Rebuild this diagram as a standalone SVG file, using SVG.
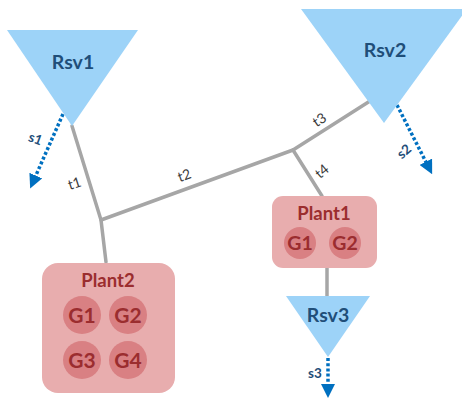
<svg xmlns="http://www.w3.org/2000/svg" width="462" height="403" viewBox="0 0 462 403">
  <style>
    .rsv { fill: #9dd3f8; }
    .rsv-label { font-family: Lato, "Liberation Sans", sans-serif; font-weight: bold; font-size: 19.5px; fill: #1f4e79; text-anchor: middle; }
    .pipe { stroke: #a6a6a6; stroke-width: 3.5; fill: none; stroke-linecap: round; stroke-linejoin: round; }
    .pipe-label { font-family: Lato, "Liberation Sans", sans-serif; font-size: 14px; fill: #3a3a3a; text-anchor: middle; }
    .spill { stroke: #0070c0; stroke-width: 3.5; stroke-dasharray: 3 2.2; fill: none; }
    .spill-label { font-family: Lato, "Liberation Sans", sans-serif; font-weight: bold; font-size: 13.5px; fill: #1f4e79; text-anchor: middle; }
    .plant { fill: #e8adae; }
    .unit { fill: #d98083; }
    .plant-label { font-family: Lato, "Liberation Sans", sans-serif; font-weight: bold; font-size: 18.5px; fill: #9b2d2f; text-anchor: middle; }
    .unit-label { font-family: Lato, "Liberation Sans", sans-serif; font-weight: bold; font-size: 21px; fill: #9b2d2f; text-anchor: middle; }
    .unit-label.small { font-size: 19.5px; }
  </style>
  <defs>
    <marker id="head" viewBox="0 0 10 10" refX="5" refY="5" markerWidth="4" markerHeight="4" orient="auto" markerUnits="strokeWidth">
      <path d="M0,0 L10,5 L0,10 Z" fill="#0070c0"/>
    </marker>
  </defs>

  <rect width="462" height="403" fill="#ffffff"/>

  <!-- pipes and spill outlets -->
  <g id="connectors">
    <polyline class="pipe" points="72,126 101,220 106,262"/>
    <polyline class="pipe" points="101,220 293,150 370,101"/>
    <line class="pipe" x1="293" y1="150" x2="322" y2="196"/>
    <line class="pipe" x1="327" y1="268" x2="327" y2="296"/>

    <line class="spill" x1="63" y1="114" x2="33" y2="182" marker-end="url(#head)"/>
    <line class="spill" x1="397" y1="105" x2="429" y2="168" marker-end="url(#head)"/>
    <line class="spill" x1="328" y1="358" x2="328" y2="391" marker-end="url(#head)"/>

    <text class="pipe-label" transform="translate(76,188) rotate(-18)">t1</text>
    <text class="pipe-label" transform="translate(186,180) rotate(-20)">t2</text>
    <text class="pipe-label" transform="translate(322,124) rotate(-33)">t3</text>
    <text class="pipe-label" transform="translate(325,175) rotate(-40)">t4</text>

    <text class="spill-label" transform="translate(34,143) rotate(20)">s1</text>
    <text class="spill-label" transform="translate(407,155) rotate(-40)">s2</text>
    <text class="spill-label" x="315" y="378">s3</text>
  </g>

  <g id="Rsv1">
    <polygon class="rsv" points="7,30 138,30 72,126"/>
    <text class="rsv-label" x="73" y="69">Rsv1</text>
  </g>

  <g id="Rsv2">
    <polygon class="rsv" points="301,9 467,9 384,123"/>
    <text class="rsv-label" x="385" y="57">Rsv2</text>
  </g>

  <g id="Rsv3">
    <polygon class="rsv" points="286,296 370,296 328,357"/>
    <text class="rsv-label" x="328" y="322">Rsv3</text>
  </g>

  <g id="Plant1">
    <rect class="plant" x="272" y="196" width="105" height="72" rx="11"/>
    <text class="plant-label" x="324" y="220">Plant1</text>
    <circle class="unit" cx="300" cy="243" r="16"/>
    <circle class="unit" cx="345" cy="243" r="16"/>
    <text class="unit-label small" x="300" y="250">G1</text>
    <text class="unit-label small" x="345" y="250">G2</text>
  </g>

  <g id="Plant2">
    <rect class="plant" x="42" y="263" width="133" height="130" rx="16"/>
    <text class="plant-label" x="108" y="287">Plant2</text>
    <circle class="unit" cx="82" cy="315" r="19"/>
    <circle class="unit" cx="128" cy="315" r="19"/>
    <circle class="unit" cx="82" cy="360" r="19"/>
    <circle class="unit" cx="128" cy="360" r="19"/>
    <text class="unit-label" x="82" y="322.5">G1</text>
    <text class="unit-label" x="128" y="322.5">G2</text>
    <text class="unit-label" x="82" y="367.5">G3</text>
    <text class="unit-label" x="128" y="367.5">G4</text>
  </g>
</svg>
